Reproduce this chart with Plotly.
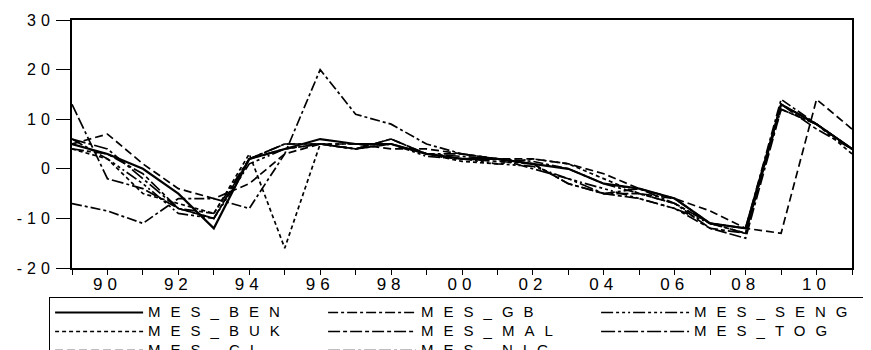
import plotly.graph_objects as go

years = list(range(1989, 2012))

mes_ben = [5, 3, 0, -5, -12, 2, 4, 6, 5, 5, 3, 2, 2, 1, 0, -3, -4, -6, -11, -12, 13, 9, 4]
mes_gb = [-7, -8.5, -11, -6, -6, -8, 3, 20, 11, 9, 5, 3, 2, 1.5, 0, -3, -5, -6, -11, -12, 14, 9, 4]
mes_seng = [6, 2, -3, -9, -10, 1, 4, 5, 4, 5, 2.5, 2, 1, 0.5, -2, -4, -6, -8, -11, -12, 12, 9, 4]
mes_buk = [4, 2, -5, -7, -9, 3, -16, 5, 5, 5, 3, 1.5, 1, 2, 1, -2, -5, -7, -11, -13, 13, 9, 3]
mes_mal = [4, 3, -1, -8, -9, 2, 4, 5, 4, 6, 3, 2, 1.5, 1, -3, -5, -6, -8, -12, -13, 13, 8, 4]
mes_tog = [6, 4, -2, -8, -10, 2, 5, 5, 4, 5, 3, 2.5, 2, 0, -2, -5, -4, -7, -11, -13, 13, 9, 4]
mes_ci = [5, 7, 1, -4, -6, -3, 3, 5, 5, 4, 4, 3, 2, 2, 1, -1, -4, -6, -8.5, -12, -13, 14, 8]
mes_nig = [13, -2, -4, -8, -10, 2, 5, 5, 4, 6, 3, 3, 2, 1, -3, -5, -5, -7, -12, -14, 12, 9, 4]

series_names = ["MES_BEN", "MES_GB", "MES_SENG", "MES_BUK", "MES_MAL", "MES_TOG", "MES_CI", "MES_NIG"]
series_values = [mes_ben, mes_gb, mes_seng, mes_buk, mes_mal, mes_tog, mes_ci, mes_nig]
dashes = ["solid", "10px,3px,3px,3px", "12px,3px,3px,3px,3px,3px,2px,3px", "4px,3px",
          "12px,3px,4px,3px", "14px,3px,3px,3px", "8px,4px", "12px,3px,12px,3px,3px,3px"]
widths = [2.2, 1.7, 1.7, 1.7, 1.7, 1.7, 1.7, 1.7]

y_ticks = [-20, -10, 0, 10, 20, 30]
x_ticks = years
x_labels = [f"{y % 100:02d}" if y % 2 == 0 else "" for y in years]


def styled(s, size, spacing):
    return f'<span style="font-size:{size}px;letter-spacing:{spacing}px">{s}</span>'


fig = go.Figure()
for name, vals, dash, w in zip(series_names, series_values, dashes, widths):
    fig.add_trace(go.Scatter(x=years, y=vals, mode="lines", name=styled(name, 15, 10),
                             line=dict(color="black", width=w, dash=dash)))

# page body has an 8px margin, so the figure is 8px smaller and shifted
fig.update_layout(
    width=863, height=342,
    margin=dict(l=64, r=19, t=12, b=82, autoexpand=False),
    paper_bgcolor="white", plot_bgcolor="white",
    font=dict(family="Liberation Sans, Arial, sans-serif", color="black", size=14),
    showlegend=True,
    legend=dict(orientation="h", x=-0.03, xanchor="left", y=-0.115, yanchor="top",
                bordercolor="black", borderwidth=1.5, bgcolor="white",
                itemwidth=88, entrywidth=170, entrywidthmode="pixels",
                font=dict(size=11), tracegroupgap=0, itemclick=False),
)
fig.update_xaxes(range=[1989, 2011], tickmode="array", tickvals=x_ticks,
                 ticktext=[styled(t, 17, 5) if t else "" for t in x_labels],
                 ticks="outside", ticklen=5, tickwidth=1.2, tickcolor="black",
                 showline=True, linecolor="black", linewidth=2, mirror=True,
                 showgrid=False, zeroline=False, tickfont=dict(size=17),
                 ticklabelstandoff=-5)
fig.update_yaxes(range=[-20, 30], tickmode="array", tickvals=y_ticks,
                 ticktext=[styled(str(v), 16, 5) for v in y_ticks],
                 ticks="outside", ticklen=14, tickwidth=1.2, tickcolor="black",
                 showline=True, linecolor="black", linewidth=2, mirror=True,
                 showgrid=False, zeroline=False, tickfont=dict(size=16),
                 ticklabelstandoff=-2)

fig.write_html("out.html")
